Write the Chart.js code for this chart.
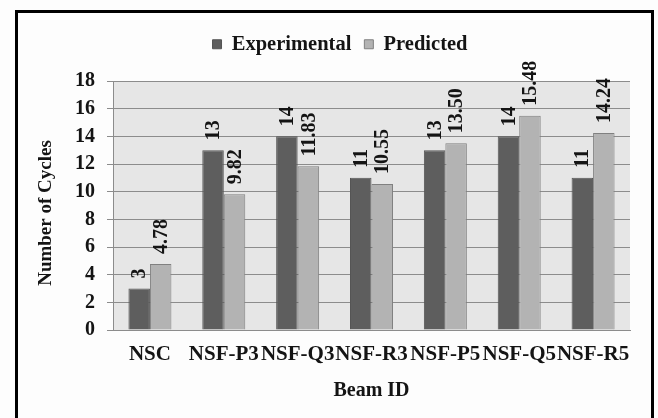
<!DOCTYPE html>
<html>
<head>
<meta charset="utf-8">
<script src="https://cdn.jsdelivr.net/npm/chart.js@4.4.1/dist/chart.umd.min.js"></script>
<style>
  html, body { margin: 0; padding: 0; background: #ffffff; }
  #wrap { position: relative; width: 658px; height: 418px; overflow: hidden; background: #fdfdfd; }
  #wrap canvas { position: absolute; left: 0; top: 0; }
  #frame { position: absolute; left: 15px; top: 10px; width: 633px; height: 460px;
           border: 3px solid #000; pointer-events: none; }
</style>
</head>
<body>
<div id="wrap">
  <canvas id="chart" width="658" height="418"></canvas>
  <div id="frame"></div>
</div>
<script>
// Beam IDs and cycle counts
const beamIds = ['NSC', 'NSF-P3', 'NSF-Q3', 'NSF-R3', 'NSF-P5', 'NSF-Q5', 'NSF-R5'];
const experimental = [3, 13, 14, 11, 13, 14, 11];
const predicted = [4.78, 9.82, 11.83, 10.55, 13.50, 15.48, 14.24];
const yTicks = [0, 2, 4, 6, 8, 10, 12, 14, 16, 18];
const yTitle = 'Number of Cycles';
const xTitle = 'Beam ID';

const FONT = '"Liberation Serif", "Times New Roman", serif';
const TEXT = '#141414';

// grey plot background behind the grid; fixed legend band height
const plotBackground = {
  id: 'plotBackground',
  beforeLayout(chart) {
    const lg = chart.legend;
    if (lg && !lg._bandFixed) {
      const fit = lg.fit;
      lg.fit = function () { fit.call(this); this.height = 60; };
      lg._bandFixed = true;
    }
  },
  beforeDraw(chart) {
    const { ctx, chartArea: a } = chart;
    ctx.save();
    ctx.fillStyle = '#e6e6e6';
    ctx.fillRect(a.left, a.top, a.right - a.left, a.bottom - a.top);
    ctx.restore();
  }
};

// vertical value labels above each bar, plus the rotated y-axis title
const valueLabels = {
  id: 'valueLabels',
  afterDatasetsDraw(chart) {
    const { ctx } = chart;
    ctx.save();
    ctx.font = 'bold 20px ' + FONT;
    ctx.fillStyle = TEXT;
    ctx.textAlign = 'left';
    ctx.textBaseline = 'middle';
    chart.data.datasets.forEach((ds, i) => {
      chart.getDatasetMeta(i).data.forEach((bar, j) => {
        const txt = ds.data[j].toFixed(ds.decimals);
        ctx.save();
        ctx.translate(bar.x, bar.y - 10);
        ctx.rotate(-Math.PI / 2);
        ctx.fillText(txt, 0, 1);
        ctx.restore();
      });
    });
    ctx.restore();
  },
  afterDraw(chart) {
    const { ctx } = chart;
    ctx.save();
    ctx.font = 'bold 19px ' + FONT;
    ctx.fillStyle = TEXT;
    ctx.textAlign = 'center';
    ctx.textBaseline = 'middle';
    ctx.translate(46, 213);
    ctx.rotate(-Math.PI / 2);
    ctx.fillText(yTitle, 0, 0);
    ctx.restore();
  }
};

new Chart(document.getElementById('chart'), {
  type: 'bar',
  data: {
    labels: beamIds,
    datasets: [
      { label: 'Experimental', data: experimental, decimals: 0,
        backgroundColor: '#5e5e5e', borderColor: '#555555', borderWidth: 1,
        categoryPercentage: 0.582, barPercentage: 1.0 },
      { label: 'Predicted', data: predicted, decimals: 2,
        backgroundColor: '#b3b3b3', borderColor: '#808080', borderWidth: 1,
        categoryPercentage: 0.582, barPercentage: 1.0 }
    ]
  },
  options: {
    responsive: false,
    animation: false,
    layout: { padding: { left: 50, right: 28, top: 21, bottom: 0 } },
    plugins: {
      legend: {
        position: 'top',
        align: 'center',
        labels: {
          boxWidth: 9, boxHeight: 9, padding: 13,
          color: TEXT,
          font: { family: FONT, size: 20.5, weight: 'bold' }
        }
      },
      tooltip: { enabled: false }
    },
    scales: {
      x: {
        grid: { display: false, drawTicks: false },
        border: { display: true, color: '#8c8c8c', width: 1 },
        ticks: {
          autoSkip: false, maxRotation: 0, minRotation: 0, padding: 12,
          color: TEXT, font: { family: FONT, size: 21, weight: 'bold' }
        },
        title: {
          display: true, text: xTitle, color: TEXT,
          padding: { top: 0, bottom: 15 },
          font: { family: FONT, size: 20, weight: 'bold' }
        },
        afterFit(scale) { scale.height = 88; }
      },
      y: {
        min: 0, max: 18,
        afterBuildTicks(scale) { scale.ticks = yTicks.map(v => ({ value: v })); },
        grid: { color: '#8c8c8c', lineWidth: 1, tickLength: 6, drawTicks: true },
        border: { display: true, color: '#8c8c8c', width: 1 },
        ticks: {
          padding: 12, color: TEXT,
          font: { family: FONT, size: 20, weight: 'bold' }
        },
        afterFit(scale) { scale.width = 63; }
      }
    }
  },
  plugins: [plotBackground, valueLabels]
});
</script>
</body>
</html>
